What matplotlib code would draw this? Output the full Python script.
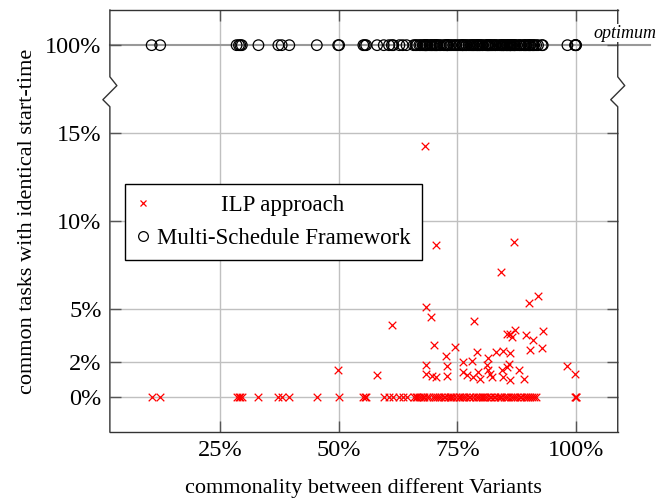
import numpy as np
import matplotlib.pyplot as plt
from matplotlib.lines import Line2D
import matplotlib.transforms as mtransforms

plt.rcParams['font.family'] = ['Liberation Serif', 'DejaVu Serif']

# variants where the ILP approach reaches some commonality (x = %, y = %)
ilp_x = [49.9, 58.1, 61.2, 68.2, 70.6, 87.0, 84.2, 68.3, 69.4, 70.1, 68.5, 68.4,
         69.6, 70.5, 72.7, 72.9, 72.9, 74.5, 78.6, 79.1, 76.1, 78.0, 76.2, 77.0,
         78.4, 79.4, 79.8, 81.5, 81.2, 81.5, 81.9, 82.4, 83.1, 84.7, 86.2, 84.5,
         85.4, 85.9, 84.7, 86.2, 85.5, 86.1, 86.6, 87.2, 89.4, 91.0, 93.0, 90.4,
         92.8, 88.0, 89.0, 90.1, 92.0, 98.2, 99.8]
ilp_y = [1.55, 1.23, 4.1, 14.24, 8.64, 8.81, 7.1, 5.13, 4.53, 2.93, 1.83, 1.28,
         1.17, 1.13, 2.3, 1.74, 1.17, 2.83, 4.3, 2.55, 1.98, 2.02, 1.41, 1.23,
         1.10, 1.41, 1.04, 2.23, 1.79, 1.51, 1.32, 1.13, 2.55, 2.6, 2.49, 1.55,
         1.70, 1.89, 1.10, 0.95, 3.59, 3.59, 3.40, 3.78, 3.49, 3.21, 3.72, 2.64,
         2.79, 1.51, 1.04, 5.34, 5.72, 1.74, 1.28]

# variants where the ILP approach has no common start-times
zero_x = [10.6, 12.4, 28.5, 29.0, 29.3, 29.6, 33.1, 37.3, 38.0, 39.6, 45.4, 50.1,
          55.2, 55.5, 55.8, 59.5, 60.6, 61.5, 62.8, 63.5, 64.3,
          65.8, 66.2, 66.5, 67.0, 67.3, 67.7, 68.0, 68.7, 69.1, 69.8, 70.3, 70.8,
          71.2, 71.5, 72.1, 72.4, 73.0, 73.4, 73.7, 74.1, 74.8, 75.3, 75.6, 76.0,
          76.5, 76.8, 77.4, 77.7, 78.2, 78.9, 79.3, 79.7, 80.2, 80.4, 80.9, 81.3,
          81.8, 82.2, 82.7, 83.0, 83.5, 83.9, 84.3, 84.9, 85.2, 85.7, 86.3, 86.8,
          87.1, 87.6, 88.2, 88.5, 89.1, 89.5, 89.9, 90.3, 90.8, 91.2, 91.6,
          99.9, 100.0, 100.0]
zero_y = [0.0] * len(zero_x)

all_x = ilp_x + zero_x   # Multi-Schedule Framework always at 100%

ytick_pos = [0, 2, 5, 10, 15, 20]
ytick_lab = ['0%', '2%', '5%', '10%', '15%', '100%']
xtick_pos = [25, 50, 75, 100]
xtick_lab = ['25%', '50%', '75%', '100%']
OPT = 20  # where 100% sits on the broken axis

fig = plt.figure(figsize=(6.7, 5), dpi=100)
ax = fig.add_axes([0.164, 0.136, 0.758, 0.844])

ax.set_xlim(1.8, 108.8)
ax.set_ylim(-2, 22)

for t in xtick_pos:
    ax.axvline(t, color='#c0c0c0', lw=1, zorder=0)
for t in ytick_pos[:-1]:
    ax.axhline(t, color='#c0c0c0', lw=1, zorder=0)

# optimum line, reaching past the right edge
ax.plot([1.8, 115.6], [OPT, OPT], color='#999999', lw=1.5, clip_on=False, zorder=1)
ax.text(110.4, 20.2, 'optimum', style='italic', fontsize=13, ha='center', va='bottom',
        zorder=5, clip_on=False,
        bbox=dict(facecolor='white', edgecolor='none', pad=0.5))

ax.scatter(ilp_x + zero_x, ilp_y + zero_y, marker='x', c='red', s=30, lw=0.9, zorder=3)
ax.scatter(all_x, [OPT] * len(all_x), marker='o', facecolors='none', edgecolors='black',
           s=58, lw=0.9, zorder=3)

ax.set_xticks(xtick_pos)
ax.set_xticklabels(xtick_lab)
ax.set_yticks(ytick_pos)
ax.set_yticklabels(ytick_lab)
ax.tick_params(axis='both', direction='in', length=8, width=1, color='#555555',
               labelsize=17.5, top=True, right=True, pad=6)

# spines with the axis break on left and right
for s in ['left', 'right']:
    ax.spines[s].set_visible(False)
for s in ['top', 'bottom']:
    ax.spines[s].set_color('#333333')
    ax.spines[s].set_linewidth(1)
dx = 7.0 / (0.758 * 670)
for x0 in [0, 1]:
    tr = mtransforms.blended_transform_factory(ax.transAxes, ax.transData)
    ax.add_line(Line2D([x0, x0, x0 - dx, x0 + dx, x0, x0],
                       [-2, 16.5, 16.9, 17.7, 18.2, 22],
                       transform=tr, color='#333333', lw=1, clip_on=False, zorder=4))

ax.set_xlabel('commonality between different Variants', fontsize=16, labelpad=12)
ax.set_ylabel('common tasks with identical start-time', fontsize=16, labelpad=6)

h1 = Line2D([], [], marker='x', color='red', ls='', markersize=5, mew=0.9)
h2 = Line2D([], [], marker='o', mfc='none', mec='black', ls='', markersize=7, mew=0.9)
leg = ax.legend([h1, h2], ['ILP approach', 'Multi-Schedule Framework'], loc='upper left',
                bbox_to_anchor=(0.03, 0.588), borderaxespad=0, fontsize=16.5,
                frameon=True, fancybox=False, edgecolor='black', framealpha=1,
                handlelength=0.6, handletextpad=0.3, borderpad=0.5, labelspacing=0.5)
leg.get_frame().set_linewidth(1)
# centre the shorter legend entry like the original
leg.get_texts()[0].set_x(64)

plt.savefig('out.png', dpi=100)
